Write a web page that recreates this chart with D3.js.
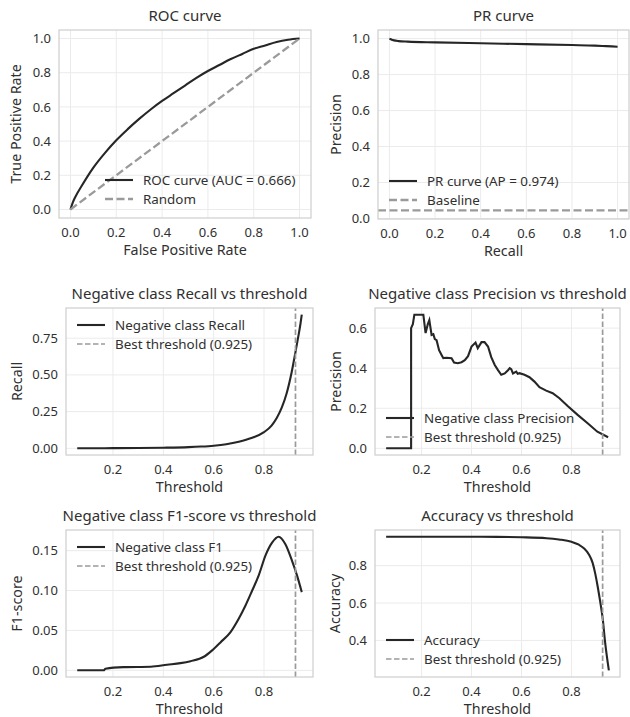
<!DOCTYPE html>
<html>
<head>
<meta charset="utf-8">
<script src="https://cdn.jsdelivr.net/npm/d3@7"></script>
<style>
  body { margin: 0; background: #fff; }
  text { font-family: "Noto Sans", "DejaVu Sans", sans-serif; fill: #303030; }
</style>
</head>
<body>
<svg id="fig" width="630" height="717"></svg>
<script>
// ----------------------------
// Data
// ----------------------------
var rocFpr = [0, 0.01, 0.02, 0.05, 0.1, 0.15, 0.2, 0.25, 0.3, 0.35, 0.4, 0.45, 0.5, 0.55, 0.6, 0.65, 0.7, 0.75, 0.8, 0.85, 0.9, 0.95, 1];
var rocTpr = [0, 0.04, 0.07, 0.14, 0.245, 0.33, 0.405, 0.47, 0.53, 0.585, 0.635, 0.68, 0.725, 0.77, 0.81, 0.845, 0.88, 0.91, 0.94, 0.96, 0.98, 0.993, 1];
var rocAuc = 0.666;

var prRecall = [0, 0.005, 0.01, 0.02, 0.04, 0.08, 0.2, 0.4, 0.6, 0.8, 0.9, 0.95, 1];
var prPrecision = [1, 0.997, 0.994, 0.99, 0.986, 0.983, 0.979, 0.974, 0.969, 0.964, 0.961, 0.958, 0.955];
var prAp = 0.974;
var prBaseline = 0.045;

var recThr = [0.058, 0.1, 0.2, 0.3, 0.4, 0.5, 0.55, 0.6, 0.65, 0.7, 0.75, 0.8, 0.83, 0.85, 0.87, 0.89, 0.91, 0.925, 0.935, 0.945, 0.95];
var recVal = [0, 0, 0.001, 0.002, 0.004, 0.008, 0.012, 0.018, 0.028, 0.045, 0.07, 0.11, 0.155, 0.205, 0.275, 0.375, 0.52, 0.655, 0.75, 0.85, 0.91];

var precThr = [0.058, 0.158, 0.158, 0.165, 0.171, 0.207, 0.216, 0.225, 0.231, 0.24, 0.247, 0.253, 0.26, 0.27, 0.28, 0.287, 0.3, 0.32, 0.33, 0.345, 0.36, 0.373, 0.386, 0.4, 0.416, 0.425, 0.44, 0.452, 0.466, 0.479, 0.493, 0.506, 0.519, 0.533, 0.546, 0.553, 0.559, 0.566, 0.579, 0.585, 0.592, 0.612, 0.632, 0.652, 0.672, 0.699, 0.725, 0.752, 0.785, 0.825, 0.865, 0.904, 0.947];
var precVal = [0, 0, 0.6, 0.62, 0.667, 0.667, 0.575, 0.62, 0.64, 0.566, 0.57, 0.545, 0.54, 0.49, 0.466, 0.45, 0.452, 0.45, 0.428, 0.425, 0.43, 0.44, 0.46, 0.508, 0.528, 0.50, 0.53, 0.53, 0.508, 0.455, 0.416, 0.39, 0.367, 0.374, 0.39, 0.40, 0.395, 0.374, 0.383, 0.372, 0.375, 0.367, 0.355, 0.333, 0.305, 0.288, 0.275, 0.25, 0.211, 0.167, 0.125, 0.083, 0.055];

var f1Thr = [0.058, 0.163, 0.17, 0.242, 0.35, 0.415, 0.468, 0.508, 0.561, 0.594, 0.627, 0.667, 0.7, 0.726, 0.753, 0.779, 0.806, 0.832, 0.858, 0.885, 0.911, 0.931, 0.95];
var f1Val = [0, 0, 0.002, 0.004, 0.0045, 0.007, 0.009, 0.0115, 0.017, 0.025, 0.035, 0.048, 0.065, 0.081, 0.1, 0.119, 0.144, 0.16, 0.1675, 0.158, 0.1375, 0.119, 0.098];

var accThr = [0.058, 0.3, 0.5, 0.6, 0.7, 0.75, 0.8, 0.83, 0.85, 0.87, 0.885, 0.895, 0.905, 0.915, 0.925, 0.935, 0.95];
var accVal = [0.955, 0.955, 0.954, 0.952, 0.947, 0.94, 0.928, 0.912, 0.893, 0.86, 0.815, 0.76, 0.69, 0.61, 0.52, 0.39, 0.24];

var bestThreshold = 0.925;

var unitTicks = [0, 0.2, 0.4, 0.6, 0.8, 1.0];
var thrTicks = [0.2, 0.4, 0.6, 0.8];

// ----------------------------
// Style
// ----------------------------
var C = {
	line: "#262626",
	ref: "#9a9a9a",
	grid: "#ebebeb",
	edge: "#d0d0d0"
};
var F = { title: 15, tick: 13, label: 14.3, legend: 13.4 };

var svg = d3.select("#fig");

function zip(xs, ys) {
	return xs.map((x, i) => [x, ys[i]]);
}

// matplotlib-like 5% margins
function padded(ext) {
	var m = (ext[1] - ext[0]) * 0.05;
	return [ext[0] - m, ext[1] + m];
}

// ----------------------------
// One panel
// ----------------------------
function drawPanel(p) {
	var x = d3.scaleLinear().domain(p.xDomain).range([p.box[0], p.box[1]]);
	var y = d3.scaleLinear().domain(p.yDomain).range([p.box[3], p.box[2]]);
	var g = svg.append("g");

	// grid
	g.selectAll(".gx").data(p.xTicks).enter().append("line")
		.attr("x1", d => x(d)).attr("x2", d => x(d))
		.attr("y1", p.box[2]).attr("y2", p.box[3])
		.attr("stroke", C.grid).attr("stroke-width", 1);
	g.selectAll(".gy").data(p.yTicks).enter().append("line")
		.attr("x1", p.box[0]).attr("x2", p.box[1])
		.attr("y1", d => y(d)).attr("y2", d => y(d))
		.attr("stroke", C.grid).attr("stroke-width", 1);

	// tick labels
	g.selectAll(".tx").data(p.xTicks).enter().append("text")
		.attr("x", d => x(d)).attr("y", p.box[3] + 18.5)
		.attr("text-anchor", "middle").attr("font-size", F.tick)
		.text(d3.format(p.xFmt));
	g.selectAll(".ty").data(p.yTicks).enter().append("text")
		.attr("x", p.box[0] - 8).attr("y", d => y(d) + 4.6)
		.attr("text-anchor", "end").attr("font-size", F.tick)
		.text(d3.format(p.yFmt));

	// clip lines to the axes box
	var clipId = "clip" + p.id;
	svg.append("clipPath").attr("id", clipId).append("rect")
		.attr("x", p.box[0]).attr("y", p.box[2])
		.attr("width", p.box[1] - p.box[0]).attr("height", p.box[3] - p.box[2]);
	var plot = g.append("g").attr("clip-path", `url(#${clipId})`);

	p.series.forEach(function(s) {
		var line = d3.line().x(d => x(d[0])).y(d => y(d[1]))
			.curve(s.smooth ? d3.curveMonotoneX : d3.curveLinear);
		var pts = s.pts;
		if (s.hline !== undefined) pts = [[p.xDomain[0], s.hline], [p.xDomain[1], s.hline]];
		if (s.vline !== undefined) pts = [[s.vline, p.yDomain[0]], [s.vline, p.yDomain[1]]];
		plot.append("path")
			.attr("d", line(pts))
			.attr("fill", "none")
			.attr("stroke", s.color)
			.attr("stroke-width", s.width)
			.attr("stroke-dasharray", s.dash || null);
	});

	// axes frame
	g.append("rect")
		.attr("x", p.box[0]).attr("y", p.box[2])
		.attr("width", p.box[1] - p.box[0]).attr("height", p.box[3] - p.box[2])
		.attr("fill", "none").attr("stroke", C.edge).attr("stroke-width", 1.25);

	// title and axis labels
	g.append("text")
		.attr("x", (p.box[0] + p.box[1]) / 2).attr("y", p.box[2] - 9)
		.attr("text-anchor", "middle").attr("font-size", F.title)
		.text(p.title);
	g.append("text")
		.attr("x", (p.box[0] + p.box[1]) / 2).attr("y", p.box[3] + 37)
		.attr("text-anchor", "middle").attr("font-size", F.label)
		.text(p.xLabel);
	g.append("text")
		.attr("transform", `translate(${p.yLabelX},${(p.box[2] + p.box[3]) / 2}) rotate(-90)`)
		.attr("text-anchor", "middle").attr("font-size", F.label)
		.text(p.yLabel);

	// legend
	var lg = g.append("g");
	p.series.forEach(function(s, i) {
		var ly = p.legend[1] + i * 19;
		lg.append("line")
			.attr("x1", p.legend[0]).attr("x2", p.legend[0] + 28)
			.attr("y1", ly).attr("y2", ly)
			.attr("stroke", s.color).attr("stroke-width", s.width)
			.attr("stroke-dasharray", s.dash || null);
		lg.append("text")
			.attr("x", p.legend[0] + 38).attr("y", ly + 4.7)
			.attr("font-size", F.legend)
			.text(s.name);
	});
}

var threshDomain = padded([d3.min(recThr), d3.max(recThr)]);

var solid = (name, pts, smooth) => ({ name: name, pts: pts, color: C.line, width: 2.1, smooth: smooth });
var bestLine = { name: `Best threshold (${bestThreshold})`, vline: bestThreshold, color: C.ref, width: 1.7, dash: "5.5,2.5" };

drawPanel({
	id: 1, box: [59, 311, 30, 218],
	xDomain: [-0.05, 1.05], yDomain: [-0.05, 1.05],
	xTicks: unitTicks, yTicks: unitTicks, xFmt: ".1f", yFmt: ".1f",
	title: "ROC curve", xLabel: "False Positive Rate", yLabel: "True Positive Rate", yLabelX: 21,
	legend: [105, 180],
	series: [
		solid(`ROC curve (AUC = ${rocAuc})`, zip(rocFpr, rocTpr), true),
		{ name: "Random", pts: [[0, 0], [1, 1]], color: C.ref, width: 2.3, dash: "8,3.5" }
	]
});

drawPanel({
	id: 2, box: [378, 629, 30, 219],
	xDomain: [-0.05, 1.05], yDomain: padded([prBaseline, 1]),
	xTicks: unitTicks, yTicks: unitTicks, xFmt: ".1f", yFmt: ".1f",
	title: "PR curve", xLabel: "Recall", yLabel: "Precision", yLabelX: 341,
	legend: [389, 181],
	series: [
		solid(`PR curve (AP = ${prAp})`, zip(prRecall, prPrecision), true),
		{ name: "Baseline", hline: prBaseline, color: C.ref, width: 2.3, dash: "8,3.5" }
	]
});

drawPanel({
	id: 3, box: [66, 313, 308, 455],
	xDomain: threshDomain, yDomain: padded([0, d3.max(recVal)]),
	xTicks: thrTicks, yTicks: [0, 0.25, 0.5, 0.75], xFmt: ".1f", yFmt: ".2f",
	title: "Negative class Recall vs threshold", xLabel: "Threshold", yLabel: "Recall", yLabelX: 22,
	legend: [77, 325],
	series: [solid("Negative class Recall", zip(recThr, recVal), true), bestLine]
});

drawPanel({
	id: 4, box: [375, 620, 308, 455],
	xDomain: threshDomain, yDomain: padded([0, d3.max(precVal)]),
	xTicks: thrTicks, yTicks: [0, 0.2, 0.4, 0.6], xFmt: ".1f", yFmt: ".1f",
	title: "Negative class Precision vs threshold", xLabel: "Threshold", yLabel: "Precision", yLabelX: 341,
	legend: [386, 418],
	series: [solid("Negative class Precision", zip(precThr, precVal), false), bestLine]
});

drawPanel({
	id: 5, box: [66, 313, 530, 677],
	xDomain: threshDomain, yDomain: padded([0, d3.max(f1Val)]),
	xTicks: thrTicks, yTicks: [0, 0.05, 0.10, 0.15], xFmt: ".1f", yFmt: ".2f",
	title: "Negative class F1-score vs threshold", xLabel: "Threshold", yLabel: "F1-score", yLabelX: 22,
	legend: [77, 547],
	series: [solid("Negative class F1", zip(f1Thr, f1Val), true), bestLine]
});

drawPanel({
	id: 6, box: [375, 620, 530, 677],
	xDomain: threshDomain, yDomain: padded([d3.min(accVal), d3.max(accVal)]),
	xTicks: thrTicks, yTicks: [0.4, 0.6, 0.8], xFmt: ".1f", yFmt: ".1f",
	title: "Accuracy vs threshold", xLabel: "Threshold", yLabel: "Accuracy", yLabelX: 340,
	legend: [386, 640],
	series: [solid("Accuracy", zip(accThr, accVal), true), bestLine]
});
</script>
</body>
</html>
